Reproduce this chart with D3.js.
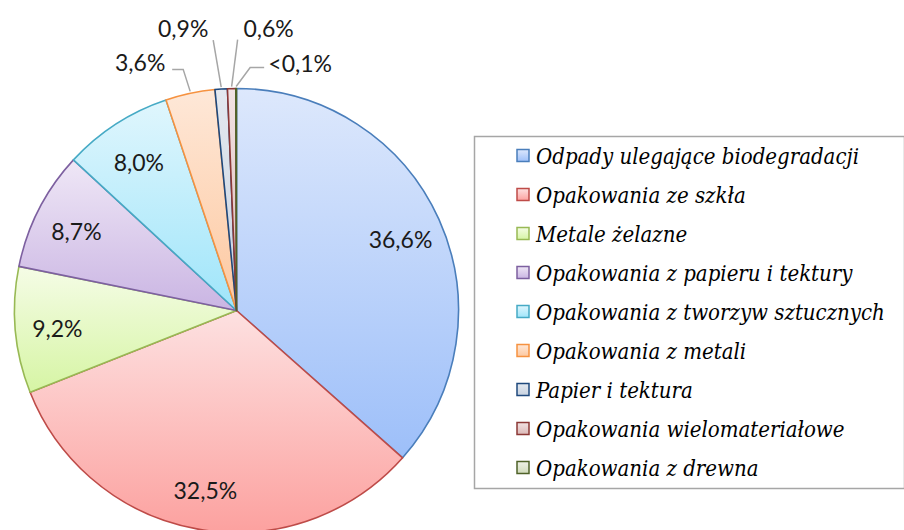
<!DOCTYPE html>
<html>
<head>
<meta charset="utf-8">
<script src="https://cdn.jsdelivr.net/npm/d3@7"></script>
<style>
  body { margin: 0; background: #fff; }
  #main-vis { width: 904px; height: 530px; overflow: hidden; }
</style>
</head>
<body>
<div id="main-vis"></div>
<script>
// data
const categories = [
    'Odpady ulegające biodegradacji',
    'Opakowania ze szkła',
    'Metale żelazne',
    'Opakowania z papieru i tektury',
    'Opakowania z tworzyw sztucznych',
    'Opakowania z metali',
    'Papier i tektura',
    'Opakowania wielomateriałowe',
    'Opakowania z drewna'
]
const shares = [36.6, 32.5, 9.2, 8.7, 8.0, 3.6, 0.9, 0.6, 0.05]
const valueLabels = ['36,6%', '32,5%', '9,2%', '8,7%', '8,0%', '3,6%', '0,9%', '0,6%', '<0,1%']

// colours: outline, gradient top, gradient bottom
const strokes = ['#4a7ebb', '#be4b48', '#98b954', '#7d60a0', '#46aac5', '#f69240', '#1f497d', '#8c3836', '#4f6228']
const lights  = ['#dde8fc', '#fde1e1', '#f5fce6', '#efe7f6', '#e0f6fd', '#fee8d8', '#e4e9f0', '#f2e3e3', '#eef1e6']
const darks   = ['#9dbff9', '#fca19f', '#d6f5a4', '#cab5e3', '#9fe5fa', '#fdc8a0', '#c7d2e0', '#dbb8b7', '#d0dabb']

// outside labels: offset of label centre from the slice's outer edge point, and leader points
const outside = {
    5: {dx: -50, dy: -31, end: [-7, -24], elbow: [-18, -24]},
    6: {dx: -38, dy: -61, end: [-8, -49], elbow: null},
    7: {dx: 37, dy: -61, end: [6, -49], elbow: null},
    8: {dx: 64, dy: -26, end: [14, -21], elbow: [28, -21]}
}

window.onload = setup

function setup () {
    const div = d3.select('#main-vis')
    const W = 904, H = 530
    const cx = 236.5, cy = 310.5, R = 222

    const svg = d3.create('svg')
        .attr('width', W)
        .attr('height', H)

    const defs = svg.append('defs')
    categories.forEach((c, i) => {
        const g = defs.append('linearGradient')
            .attr('id', 'grad' + i)
            .attr('x1', 0).attr('y1', 0).attr('x2', 0).attr('y2', 1)
        g.append('stop').attr('offset', '0%').attr('stop-color', lights[i])
        g.append('stop').attr('offset', '100%').attr('stop-color', darks[i])
    })

    const rows = categories.map((c, i) => ({name: c, value: shares[i], label: valueLabels[i], i: i}))

    const pie = d3.pie().sort(null).value(d => d.value)
    const arcs = pie(rows)
    const arc = d3.arc().innerRadius(0).outerRadius(R)
    const labelArc = d3.arc().innerRadius(R * 0.81).outerRadius(R * 0.81)

    const g = svg.append('g').attr('transform', `translate(${cx},${cy})`)

    g.selectAll('path.slice')
        .data(arcs)
        .join('path')
            .attr('class', 'slice')
            .attr('d', arc)
            .attr('fill', d => `url(#grad${d.data.i})`)
            .attr('stroke', d => strokes[d.data.i])
            .attr('stroke-width', 1.6)
            .attr('stroke-linejoin', 'round')

    // leader lines for the small slices
    const edgePoint = d => {
        const a = (d.startAngle + d.endAngle) / 2
        return [R * Math.sin(a), -R * Math.cos(a)]
    }
    g.selectAll('path.leader')
        .data(arcs.filter(d => outside[d.data.i]))
        .join('path')
            .attr('class', 'leader')
            .attr('fill', 'none')
            .attr('stroke', '#a6a6a6')
            .attr('stroke-width', 1.5)
            .attr('d', d => {
                const o = outside[d.data.i]
                const p = edgePoint(d)
                const pts = [[p[0], p[1] - 2], [p[0] + o.end[0], p[1] + o.end[1]]]
                if (o.elbow) pts.push([p[0] + o.elbow[0], p[1] + o.elbow[1]])
                return d3.line()(pts)
            })

    g.selectAll('text.val')
        .data(arcs)
        .join('text')
            .attr('class', 'val')
            .attr('text-anchor', 'middle')
            .attr('dominant-baseline', 'central')
            .attr('font-family', 'Lato, "Open Sans", sans-serif')
            .attr('font-size', 23)
            .attr('fill', '#1a1a1a')
            .attr('transform', d => {
                const o = outside[d.data.i]
                if (o) {
                    const p = edgePoint(d)
                    return `translate(${p[0] + o.dx},${p[1] + o.dy})`
                }
                const c = labelArc.centroid(d)
                return `translate(${c[0]},${c[1] + 2})`
            })
            .text(d => d.data.label)

    // legend
    const lx = 474, ly = 136, lw = 430, lh = 352
    const legend = svg.append('g')
    legend.append('rect')
        .attr('x', lx + 0.5).attr('y', ly + 0.5)
        .attr('width', lw).attr('height', lh)
        .attr('fill', '#fff')
        .attr('stroke', '#a6a6a6')
        .attr('stroke-width', 1.5)

    const rowY = d3.scalePoint().domain(d3.range(categories.length)).range([156, 468])

    const items = legend.selectAll('g.item')
        .data(rows)
        .join('g')
            .attr('class', 'item')
            .attr('transform', d => `translate(0,${rowY(d.i)})`)

    items.append('rect')
        .attr('x', 517).attr('y', -6.5)
        .attr('width', 12).attr('height', 12)
        .attr('fill', d => `url(#grad${d.i})`)
        .attr('stroke', d => strokes[d.i])
        .attr('stroke-width', 1.5)

    items.append('text')
        .attr('x', 536)
        .attr('y', 8)
        .attr('font-family', '"DejaVu Serif Condensed", "DejaVu Serif", serif')
        .attr('font-stretch', 'condensed')
        .attr('font-style', 'italic')
        .attr('font-size', 22)
        .attr('fill', '#000')
        .text(d => d.name)

    div.node().appendChild(svg.node())
}
</script>
</body>
</html>
